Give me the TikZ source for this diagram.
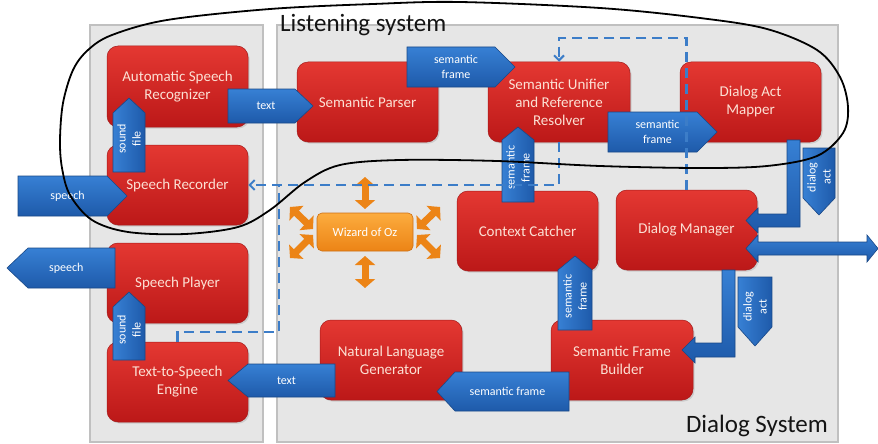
\documentclass[tikz,border=0pt]{standalone}
\usepackage{fontspec}
\setmainfont{Carlito}
\usetikzlibrary{arrows.meta,shadows,calc}

\definecolor{panelfill}{RGB}{230,230,230}
\definecolor{paneldraw}{RGB}{192,192,192}
\definecolor{redtop}{RGB}{228,56,50}
\definecolor{redbot}{RGB}{188,24,24}
\definecolor{redline}{RGB}{165,25,25}
\definecolor{bluetop}{RGB}{55,128,212}
\definecolor{bluebot}{RGB}{30,90,170}
\definecolor{blueline}{RGB}{25,72,135}
\definecolor{dashblue}{RGB}{60,125,200}
\definecolor{orangetop}{RGB}{252,172,62}
\definecolor{orangebot}{RGB}{236,132,22}
\definecolor{orangeline}{RGB}{205,112,20}
\definecolor{boxtext}{RGB}{252,224,212}
\definecolor{titletext}{RGB}{20,20,20}

\tikzset{
  panel/.style={fill=panelfill, draw=paneldraw, line width=1.5pt},
  redbox/.style={rounded corners=11pt, top color=redtop, bottom color=redbot,
    draw=redline, line width=0.5pt, text=boxtext, align=center,
    font=\fontsize{15}{18}\selectfont, inner sep=2pt,
    drop shadow={shadow xshift=1.5pt, shadow yshift=-1.5pt, opacity=0.25}},
  ozbox/.style={rounded corners=5pt, top color=orangetop, bottom color=orangebot,
    draw=orangeline, line width=0.6pt, text=white, align=center,
    font=\fontsize{12.5}{14}\selectfont, inner sep=2pt},
  barrowh/.style={top color=bluetop, bottom color=bluebot, draw=blueline, line width=0.6pt},
  barrowv/.style={left color=bluetop, right color=bluebot, draw=blueline, line width=0.6pt},
  blabel/.style={text=white, align=center, font=\fontsize{12}{15}\selectfont, inner sep=0pt},
  dashline/.style={draw=dashblue, line width=2.6pt, dash pattern=on 10pt off 6pt},
  dashtip/.style={-{Straight Barb[length=5pt,width=10pt,line width=2pt]}},
  ozarrow/.style={draw=orangebot, line width=7pt,
    arrows={Triangle[width=20pt,length=9pt]-Triangle[width=20pt,length=9pt]}},
  title/.style={text=titletext, font=\fontsize{25}{29}\selectfont, inner sep=0pt},
  loopline/.style={draw=black, line width=1.8pt}
}

% block arrows
\newcommand{\blkR}[7]{% name,left,top,bottom,shoulder,tip,text
  \path[barrowh] (#2,#3) -- (#5,#3) -- (#6,{(#3+#4)/2}) -- (#5,#4) -- (#2,#4) -- cycle;
  \node[blabel] (#1) at ({(2*#2+#5+#6)/4},{(#3+#4)/2}) {#7};}
\newcommand{\blkL}[7]{% name,tip,shoulder,right,top,bottom,text
  \path[barrowh] (#4,#5) -- (#3,#5) -- (#2,{(#5+#6)/2}) -- (#3,#6) -- (#4,#6) -- cycle;
  \node[blabel] (#1) at ({(2*#4+#3+#2)/4},{(#5+#6)/2}) {#7};}
\newcommand{\blkU}[7]{% name,left,right,tip,shoulder,bottom,text
  \path[barrowv] (#2,#6) -- (#2,#5) -- ({(#2+#3)/2},#4) -- (#3,#5) -- (#3,#6) -- cycle;
  \node[blabel,rotate=90] (#1) at ({(#2+#3)/2},{(2*#6+#5+#4)/4}) {#7};}
\newcommand{\blkD}[7]{% name,left,right,top,shoulder,tip,text
  \path[barrowv] (#2,#4) -- (#3,#4) -- (#3,#5) -- ({(#2+#3)/2},#6) -- (#2,#5) -- cycle;
  \node[blabel,rotate=90] (#1) at ({(#2+#3)/2},{(2*#4+#5+#6)/4}) {#7};}

\begin{document}
\begin{tikzpicture}[x=1pt,y=-1pt]
\useasboundingbox (0,0) rectangle (878,444);
\fill[white] (0,0) rectangle (878,444);

% panels
\path[panel] (90,25) rectangle (263,442);
\path[panel] (277,25) rectangle (838,442);

% red boxes
\node[redbox, minimum width=141pt, minimum height=81pt] (asr) at (177.5,86.5) {Automatic Speech\\Recognizer};
\node[redbox, minimum width=141pt, minimum height=80pt] (rec) at (177.5,185) {Speech Recorder};
\node[redbox, minimum width=141pt, minimum height=80pt] (player) at (177.5,283) {Speech Player};
\node[redbox, minimum width=141pt, minimum height=80pt] (tts) at (177.5,382) {Text-to-Speech\\Engine};
\node[redbox, minimum width=141pt, minimum height=80pt] (parser) at (367.5,102) {Semantic Parser};
\node[redbox, minimum width=142pt, minimum height=80pt] (unifier) at (559,102) {Semantic Unifier\\and Reference\\Resolver};
\node[redbox, minimum width=141pt, minimum height=80pt] (dam) at (750.5,102) {Dialog Act\\Mapper};
\node[redbox, minimum width=141pt, minimum height=80pt] (ctx) at (527.5,231) {Context Catcher};
\node[redbox, minimum width=141pt, minimum height=80pt] (dm) at (686.5,230) {Dialog Manager};
\node[redbox, minimum width=142pt, minimum height=80pt] (nlg) at (391,360) {Natural Language\\Generator};
\node[redbox, minimum width=142pt, minimum height=80pt] (sfb) at (622,360) {Semantic Frame\\Builder};

% Wizard of Oz
\node[ozbox, minimum width=96pt, minimum height=38pt] (woz) at (365,232) {Wizard of Oz};
\draw[ozarrow] (365,177) -- (365,209);
\draw[ozarrow] (365,256) -- (365,288);
\draw[ozarrow] (290,207) -- (313,229);
\draw[ozarrow] (440,207) -- (417,229);
\draw[ozarrow] (290,258) -- (313,235);
\draw[ozarrow] (440,258) -- (417,235);

% block arrows
\blkR{speechin}{18}{176}{216}{107}{127}{speech}
\blkU{sfile1}{113}{145}{98}{113}{172}{sound\\file}
\blkR{text1}{228}{89}{123}{295}{313}{text}
\blkR{sem1}{407}{47}{87}{495}{515}{semantic\\frame}
\blkR{sem2}{608}{112}{152}{697}{717}{semantic\\frame}
\blkU{sem3}{502}{534}{127}{140}{202}{semantic\\frame}
\blkD{da1}{803}{835}{148}{198}{215}{dialog\\act}
\blkD{da2}{738}{772}{277}{327}{346}{dialog\\act}
\blkU{sem4}{558}{592}{256}{270}{330}{semantic\\frame}
\blkL{sem5}{437}{455}{569}{372}{411}{semantic frame}
\blkL{text2}{228}{248}{335}{364}{397}{text}
\blkU{sfile2}{113}{145}{292}{307}{360}{sound\\file}
\blkL{speechout}{7}{28}{115}{248}{288}{speech}

% elbow arrows and the double arrow
\path[barrowh] (787,140) -- (800,140) -- (800,227) -- (758,227) -- (758,233) -- (746,220.5)
  -- (758,208) -- (758,214) -- (787,214) -- cycle;
\path[barrowh] (722,270) -- (735,270) -- (735,357) -- (695,357) -- (695,363) -- (682,350)
  -- (695,337) -- (695,343) -- (722,343) -- cycle;
\path[barrowh] (746,248.5) -- (758,235) -- (758,242) -- (867,242) -- (867,235) -- (878,248.5)
  -- (867,262) -- (867,255) -- (758,255) -- (758,262) -- cycle;

% dashed connectors
\coordinate (topturn) at (559,38);
\coordinate (junction) at (279,185);
\coordinate (lowturn) at (279,332);
\draw[dashline,dashtip] (dm.north) |- (topturn) -- (unifier.north);
\draw[dashline,dashtip] (unifier.south) |- (rec.east);
\draw[dashline] (tts.north) |- (lowturn) -- (junction);

% titles
\node[title, anchor=base west] (listen) at (280,32) {Listening system};
\node[title, anchor=base east] (dsys) at (828,432) {Dialog System};

% listening system outline
\draw[loopline] plot[smooth cycle, tension=0.55] coordinates {
  (60,140) (63,103) (73,70) (88,50) (112,35) (167,20) (270,9) (373,4) (460,2)
  (600,8) (700,18) (767,29) (817,50) (840,77) (848,107) (843,133) (817,156)
  (767,166) (700,168) (600,166) (497,161) (400,160) (340,165) (305,182)
  (270,210) (238,227) (185,234) (128,232) (92,220) (70,195) (62,168)};
\end{tikzpicture}
\end{document}
